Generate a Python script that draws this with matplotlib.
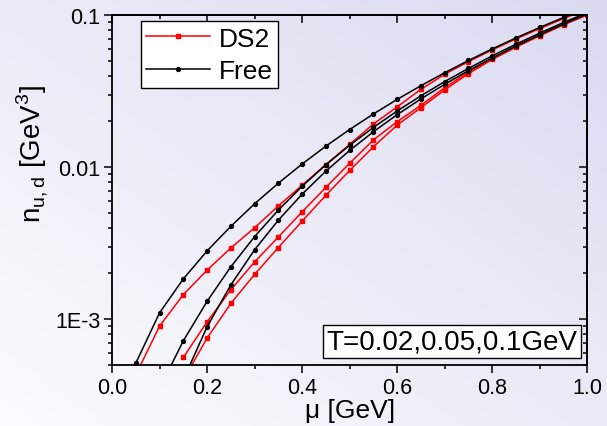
import numpy as np
import matplotlib
matplotlib.use("Agg")
import matplotlib.pyplot as plt
from matplotlib.ticker import MultipleLocator, FixedLocator, FixedFormatter, LogLocator, NullFormatter

plt.rcParams['font.family'] = ['Liberation Sans', 'DejaVu Sans']
plt.rcParams['mathtext.fontset'] = 'custom'
plt.rcParams['mathtext.rm'] = 'Liberation Sans'

# chemical potential grid [GeV]; each series ends at mu = 1.0
mu_all = [0.05, 0.10, 0.15, 0.20, 0.25, 0.30, 0.35, 0.40, 0.45, 0.50,
          0.55, 0.60, 0.65, 0.70, 0.75, 0.80, 0.85, 0.90, 0.95, 1.00]

# DS2 quark number density [GeV^3] for T = 0.1, 0.05, 0.02 GeV
ds2_t010 = [4.3e-4, 9.0e-4, 1.45e-3, 2.10e-3, 2.94e-3, 3.99e-3, 5.56e-3, 7.6e-3, 0.0104, 0.0141,
            0.0192, 0.0249, 0.0325, 0.0408, 0.0494, 0.0590, 0.0697, 0.0815, 0.0948, 0.1095]
ds2_t005 = [5.6e-4, 9.6e-4, 1.56e-3, 2.38e-3, 3.47e-3, 5.08e-3, 7.36e-3, 0.0106,
            0.0151, 0.0199, 0.0255, 0.0333, 0.0422, 0.0518, 0.0622, 0.0738, 0.0870, 0.1010]
ds2_t002 = [4.0e-4, 7.5e-4, 1.27e-3, 1.97e-3, 2.96e-3, 4.41e-3, 6.53e-3, 9.5e-3,
            0.0136, 0.0189, 0.0246, 0.0322, 0.0412, 0.0510, 0.0615, 0.0730, 0.0862, 0.1000]

# free quark gas
free_t010 = [5.13e-4, 1.10e-3, 1.84e-3, 2.81e-3, 4.08e-3, 5.74e-3, 7.84e-3, 0.01048, 0.01373, 0.01767,
             0.02236, 0.02788, 0.03432, 0.04175, 0.05025, 0.05987, 0.07072, 0.08286, 0.09638, 0.1113]
free_t005 = [3.5e-4, 7.2e-4, 1.31e-3, 2.21e-3, 3.49e-3, 5.22e-3, 7.48e-3, 0.01036, 0.01392,
             0.01824, 0.02338, 0.02945, 0.0365, 0.0446, 0.0539, 0.0643, 0.0761, 0.0893, 0.1038]
free_t002 = [4.0e-4, 8.9e-4, 1.68e-3, 2.86e-3, 4.48e-3, 6.64e-3, 9.41e-3, 0.01287,
             0.01708, 0.02212, 0.02808, 0.03503, 0.0431, 0.0522, 0.0626, 0.0742, 0.0873, 0.1017]


def mu_for(vals):
    return mu_all[len(mu_all) - len(vals):]


fig = plt.figure(figsize=(6.07, 4.27), dpi=100)

# soft diagonal background wash
bg = fig.add_axes([0, 0, 1, 1], zorder=-10)
gx, gy = np.meshgrid(np.linspace(0, 1, 300), np.linspace(0, 1, 200))
t = (gx + gy) / 2
c0 = np.array([252, 252, 254]) / 255
c1 = np.array([218, 218, 241]) / 255
img = c0[None, None, :] * (1 - t[..., None]) + c1[None, None, :] * t[..., None]
bg.imshow(img, origin='lower', aspect='auto', extent=[0, 1, 0, 1])
bg.axis('off')

ax = fig.add_axes([0.1845, 0.1429, 0.7831, 0.8196])
ax.set_facecolor('none')

lw = 1.1
for vals, lab in [(ds2_t010, 'DS2'), (ds2_t005, None), (ds2_t002, None)]:
    ax.plot(mu_for(vals), vals, color='red', lw=lw, marker='s', ms=2.6, label=lab)
for vals, lab in [(free_t010, 'Free'), (free_t005, None), (free_t002, None)]:
    ax.plot(mu_for(vals), vals, color='black', lw=lw, marker='o', ms=2.8, label=lab)

ax.set_yscale('log')
ax.set_xlim(0, 1.0)
ax.set_ylim(5e-4, 0.1)

ax.xaxis.set_major_locator(MultipleLocator(0.2))
ax.xaxis.set_minor_locator(MultipleLocator(0.1))
ax.xaxis.set_major_formatter(matplotlib.ticker.FormatStrFormatter('%.1f'))
ax.yaxis.set_major_locator(FixedLocator([1e-3, 1e-2, 1e-1]))
ax.yaxis.set_major_formatter(FixedFormatter(['1E-3', '0.01', '0.1']))
ax.yaxis.set_minor_locator(LogLocator(base=10, subs=np.arange(2, 10)))
ax.yaxis.set_minor_formatter(NullFormatter())

ax.tick_params(which='both', direction='out', width=1.1, labelsize=15.5, pad=3)
ax.tick_params(which='major', length=5.5)
ax.tick_params(which='minor', length=3)
for s in ax.spines.values():
    s.set_linewidth(1.3)

# mirrored axes with inward ticks
top = ax.secondary_xaxis('top')
top.xaxis.set_major_locator(MultipleLocator(0.2))
top.xaxis.set_minor_locator(MultipleLocator(0.1))
top.tick_params(which='both', direction='in', width=1.1, labeltop=False)
top.tick_params(which='major', length=5.5)
top.tick_params(which='minor', length=3)
top.spines['top'].set_linewidth(1.3)

right = ax.secondary_yaxis('right')
right.yaxis.set_major_locator(FixedLocator([1e-3, 1e-2, 1e-1]))
right.yaxis.set_minor_locator(LogLocator(base=10, subs=np.arange(2, 10)))
right.yaxis.set_major_formatter(NullFormatter())
right.yaxis.set_minor_formatter(NullFormatter())
right.tick_params(which='both', direction='in', width=1.1)
right.tick_params(which='major', length=5.5)
right.tick_params(which='minor', length=3)
right.spines['right'].set_linewidth(1.3)

ax.set_xlabel('μ [GeV]', fontsize=19, labelpad=0)
ax.set_ylabel(r'n$_{\mathregular{u,d}}$ [GeV$^{\mathregular{3}}$]', fontsize=20)
ax.yaxis.set_label_coords(-0.13, 0.605)

leg = ax.legend(loc='upper left', bbox_to_anchor=(0.061, 0.982), borderaxespad=0,
                fontsize=19, frameon=True, fancybox=False, handlelength=2.4,
                handletextpad=0.35, labelspacing=0.32, borderpad=0.2)
leg.get_frame().set_edgecolor('black')
leg.get_frame().set_linewidth(1.0)
leg.get_frame().set_facecolor('white')
leg.get_frame().set_alpha(1)

ax.text(0.716, 0.067, 'T=0.02,0.05,0.1GeV', transform=ax.transAxes, fontsize=20,
        ha='center', va='center',
        bbox=dict(boxstyle='square,pad=0.13', facecolor='white', edgecolor='black', lw=1.0))

plt.savefig('out.png', dpi=100)
